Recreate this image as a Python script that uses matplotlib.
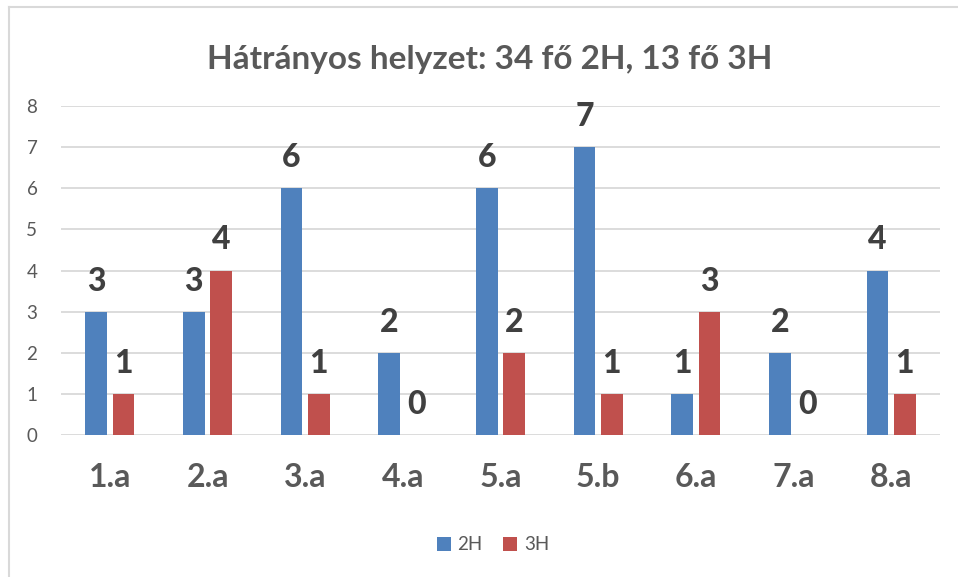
import matplotlib.pyplot as plt
import numpy as np
from matplotlib.lines import Line2D

plt.rcParams['font.family'] = ['Lato', 'DejaVu Sans']

classes = ['1.a', '2.a', '3.a', '4.a', '5.a', '5.b', '6.a', '7.a', '8.a']
h2 = [3, 3, 6, 2, 6, 7, 1, 2, 4]
h3 = [1, 4, 1, 0, 2, 1, 3, 0, 1]
title = 'Hátrányos helyzet: 34 fő 2H, 13 fő 3H'

blue = '#4F81BD'
red = '#C0504D'
grey = '#595959'
label_col = '#404040'

W, H = 958, 577
fig = plt.figure(figsize=(W / 100, H / 100), dpi=100)
ax = fig.add_axes([61 / W, 1 - 435 / H, (940 - 61) / W, (435 - 106) / H])

x = np.arange(len(classes))
bw = 0.22
off = 0.14
b1 = ax.bar(x - off, h2, bw, color=blue, label='2H', zorder=3)
b2 = ax.bar(x + off, h3, bw, color=red, label='3H', zorder=3)

for bars, vals in ((b1, h2), (b2, h3)):
    for rect, v in zip(bars, vals):
        ax.annotate(str(v), (rect.get_x() + rect.get_width() / 2, v),
                    xytext=(0, 22), textcoords='offset points',
                    ha='center', va='center', fontsize=23,
                    fontweight='black', color=label_col)

ax.set_xlim(-0.5, len(classes) - 0.5)
ax.set_ylim(0, 8)
ax.set_yticks(range(0, 9))
ax.yaxis.grid(True, color='#D9D9D9', lw=1.3, zorder=0)
ax.set_axisbelow(True)
for s in ax.spines.values():
    s.set_visible(False)
ax.tick_params(axis='both', length=0)
ax.tick_params(axis='y', labelsize=13.5, labelcolor=grey, pad=17)
ax.set_xticks(x)
ax.set_xticklabels(classes, fontsize=23, fontweight='bold', color=grey)
ax.tick_params(axis='x', pad=20)

fig.text(490 / W, 1 - 60 / H, title, ha='center', va='center',
         fontsize=24, fontweight='bold', color=grey)

fig.legend(handles=[b1, b2], loc='center', bbox_to_anchor=(493 / W, 1 - 545 / H),
           ncol=2, frameon=False, fontsize=13.5, labelcolor=grey,
           handlelength=0.75, handleheight=0.75, handletextpad=0.35,
           columnspacing=1.1)

# chart frame (left and top edges visible in the crop)
fig.add_artist(Line2D([9 / W, 9 / W], [0, 1 - 7 / H], color='#D9D9D9', lw=1.5))
fig.add_artist(Line2D([9 / W, 1], [1 - 7 / H, 1 - 7 / H], color='#D9D9D9', lw=1.5))

fig.savefig('out.png', dpi=100)
